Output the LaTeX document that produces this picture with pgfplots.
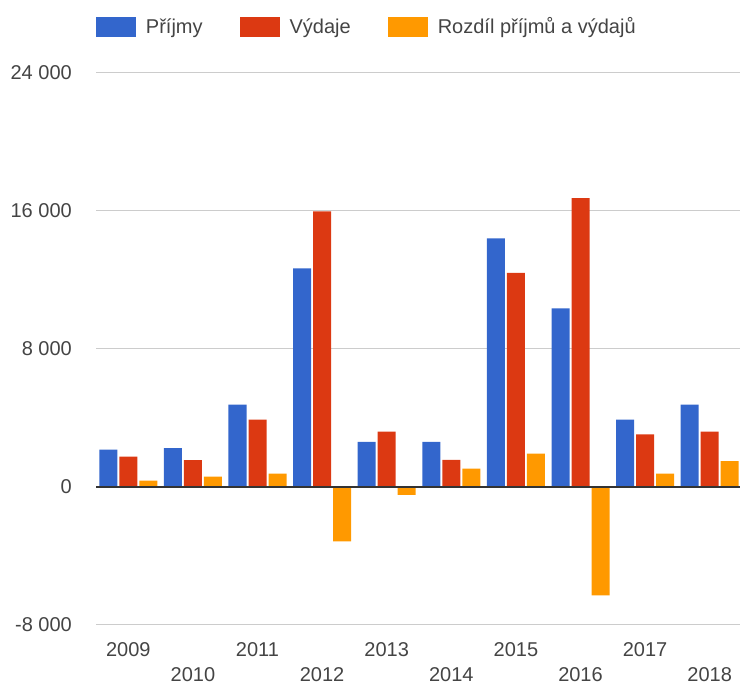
\documentclass[border=0pt]{standalone}
\usepackage{pgfplots}
\pgfplotsset{compat=1.18}
\usepackage{fontspec}
\setmainfont{Liberation Sans}
\definecolor{cP}{HTML}{3366CC}
\definecolor{cV}{HTML}{DC3912}
\definecolor{cR}{HTML}{FF9900}
\definecolor{txt}{HTML}{444444}
\definecolor{grd}{HTML}{CCCCCC}
\definecolor{base}{HTML}{333333}
\begin{document}
\fontsize{20}{24}\selectfont
\begin{tikzpicture}
\path[use as bounding box] (0,0) rectangle (740pt,684pt);
\begin{axis}[
  at={(96pt,59pt)}, anchor=south west,
  scale only axis, width=644pt, height=552.3pt,
  xmin=-0.5, xmax=9.469,
  ymin=-8000, ymax=24000,
  scaled y ticks=false,
  axis line style={draw=none},
  major tick length=0pt,
  ytick={-8000,0,8000,16000,24000},
  yticklabels={-8 000,0,8 000,16 000,24 000},
  ymajorgrids, grid style={draw=grd, line width=1pt},
  yticklabel style={font=\fontsize{20}{24}\selectfont, text=txt, inner sep=0pt, anchor=east, xshift=-24pt},
  xtick={0,2,4,6,8},
  xticklabels={2009,2011,2013,2015,2017},
  extra x ticks={1,3,5,7,9},
  extra x tick labels={2010,2012,2014,2016,2018},
  extra x tick style={xticklabel style={yshift=-24.5pt}},
  xticklabel style={font=\fontsize{20}{24}\selectfont, text=txt, inner sep=0pt, anchor=north, yshift=-17.5pt},
  ybar=2pt, bar width=18pt,
  legend columns=3,
  legend image code/.code={\fill[#1] (0pt,-10pt) rectangle (40pt,10pt);},
  legend style={draw=none, fill=none, at={(0,1.0822)}, anchor=west,
    inner sep=0pt, outer sep=0pt,
    font=\fontsize{20}{24}\selectfont, text=txt,
    nodes={inner sep=0pt},
    /tikz/every odd column/.append style={column sep=10pt},
    /tikz/every even column/.append style={column sep=37pt}},
]
\addplot[fill=cP, draw=none] coordinates {(0,2157) (1,2250) (2,4765) (3,12660) (4,2610) (5,2610) (6,14400) (7,10340) (8,3905) (9,4775)};
\addplot[fill=cV, draw=none] coordinates {(0,1750) (1,1555) (2,3895) (3,15965) (4,3210) (5,1565) (6,12405) (7,16735) (8,3040) (9,3210)};
\addplot[fill=cR, draw=none] coordinates {(0,370) (1,590) (2,765) (3,-3150) (4,-465) (5,1065) (6,1935) (7,-6280) (8,775) (9,1490)};
\legend{Příjmy,Výdaje,Rozdíl příjmů a výdajů}
\draw[base, line width=2pt] (rel axis cs:0,0.25) -- (rel axis cs:1,0.25);
\end{axis}
\end{tikzpicture}
\end{document}
